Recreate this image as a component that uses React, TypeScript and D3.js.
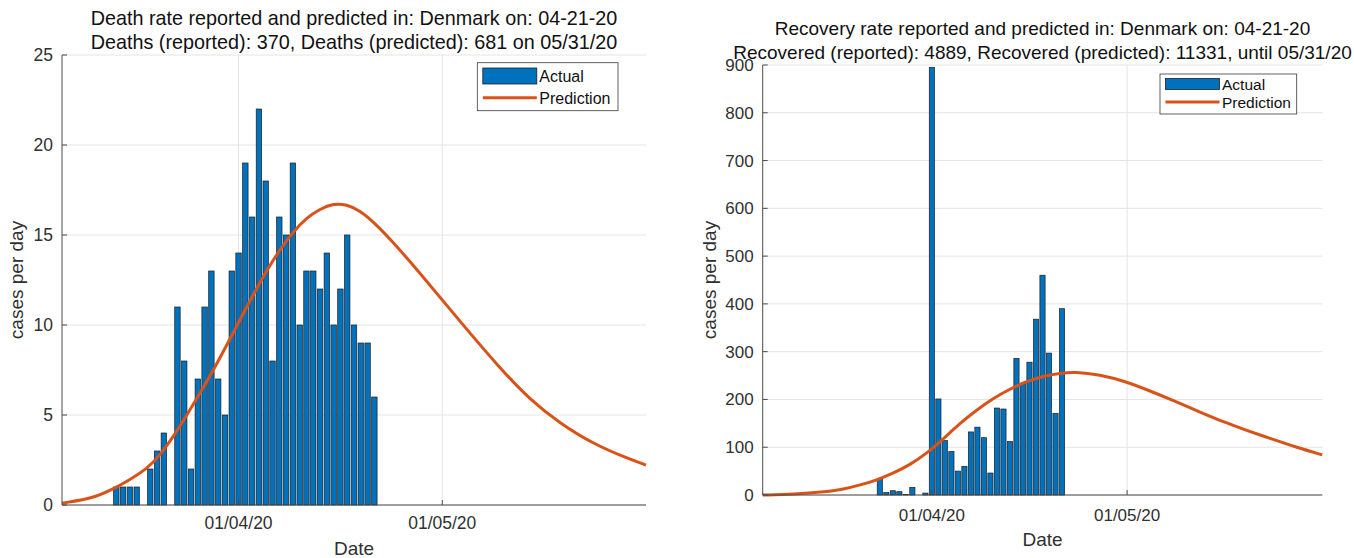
import React from 'react';
import * as d3 from 'd3';

// ---------- data ----------
const startDate = '2020-03-06';
const endDate = '2020-05-31';
const xTickDates = ['2020-04-01', '2020-05-01'];

// daily reported deaths, Mar 6 .. Apr 21
const deathsDaily = [
  0, 0, 0, 0, 0, 0, 0, 0,
  1, 1, 1, 1, 0, 2, 3, 4, 0, 11, 8, 2, 7, 11, 13, 7, 5, 13, 14, 19, 16, 22, 18, 8,
  16, 15, 19, 10, 13, 13, 12, 14, 10, 12, 15, 10, 9, 9, 6,
];
// daily reported recoveries, Mar 6 .. Apr 21
const recoveredDaily = [
  0, 0, 0, 0, 0, 0, 0, 0, 0, 0, 0, 0, 0, 0, 0, 0, 0, 0,
  35, 5, 9, 7, 1, 16, 0, 4,
  895, 201, 114, 91, 50, 60, 132, 142, 120, 46, 182, 180, 112, 286, 234, 278, 368,
  460, 297, 171, 390,
];

// predicted curves (day offset from start date -> value)
const predDeathDay = [0, 4.6, 7.6, 9.5, 12.5, 14.4, 16.4, 18.4, 20.3, 22.3, 24.3, 26.2, 28.2, 30.1, 32.1, 34.1, 36, 38, 40, 41.9, 43.9, 45.8, 48.3, 52.7, 58.6, 64.5, 68.9, 73.3, 78.2, 83.2, 86];
const predDeathValue = [0.1, 0.37, 0.9, 1.3, 2.0, 2.75, 3.8, 5.0, 6.2, 7.5, 8.9, 10.3, 11.7, 13.0, 14.2, 15.2, 15.95, 16.45, 16.75, 16.7, 16.35, 15.75, 14.8, 12.9, 10.2, 7.6, 5.85, 4.55, 3.4, 2.6, 2.22];

const predRecDay = [0, 4.7, 9.8, 12.4, 15, 17.5, 20.1, 22.6, 25.2, 27.8, 30.3, 32.9, 35.4, 38, 40.6, 43.1, 45.7, 48, 51.8, 55.7, 59.5, 63.4, 67.3, 71.2, 74, 78.5, 82, 86];
const predRecValue = [0, 1.4, 7, 12, 21, 31, 46, 63, 87, 118, 150, 178, 202, 222, 238, 249, 255, 258, 252, 238, 218, 196, 173, 151, 137, 116, 100, 84];

const deathTitle: [string, string] = [
  'Death rate reported and predicted in: Denmark on: 04-21-20',
  'Deaths (reported): 370, Deaths (predicted): 681 on 05/31/20',
];
const recTitle: [string, string] = [
  'Recovery rate reported and predicted in: Denmark on: 04-21-20',
  'Recovered (reported): 4889, Recovered (predicted): 11331, until 05/31/20',
];
const legendLabels = ['Actual', 'Prediction'];
const xLabel = 'Date';
const yLabel = 'cases per day';

// ---------- styling ----------
const FONT = '"Liberation Sans", Arial, Helvetica, sans-serif';
const BAR = '#0072BD';
const LINE = '#D95319';
const GRID = '#e4e4e4';
const AXIS = '#4a4a4a';
const TEXT = '#303030';
const DAY = 86400000;

const parse = (s: string) => new Date(s + 'T00:00:00Z');
const fmt = d3.utcFormat('%d/%m/%y');

type PanelProps = {
  x0: number; x1: number; yTop: number; yBot: number;
  yMax: number; yStep: number;
  daily: number[]; predDay: number[]; predVal: number[];
  title: [string, string]; titleY: [number, number]; titleFs: number; tickFs: number;
  legend: { x: number; y: number; w: number; h: number; fs: number; patchY: number; patchH: number; row1: number; row2: number };
  yLabelX: number; xTickY: number; xLabelY: number;
};

function Panel(p: PanelProps) {
  const start = parse(startDate);
  const xs = d3.scaleUtc().domain([start, parse(endDate)]).range([p.x0, p.x1]);
  const ys = d3.scaleLinear().domain([0, p.yMax]).range([p.yBot, p.yTop]);
  const dayW = (p.x1 - p.x0) / ((parse(endDate).getTime() - start.getTime()) / DAY);
  const bw = dayW * 0.8;
  const yTicks = d3.range(0, p.yMax + 0.001, p.yStep);
  const xTicks = xTickDates.map(parse);
  const cx = (p.x0 + p.x1) / 2;
  const line = d3
    .line<number>()
    .x((_, i) => xs(new Date(start.getTime() + p.predDay[i] * DAY)))
    .y((v) => ys(v))
    .curve(d3.curveBasis);
  const L = p.legend;
  return (
    <g fontFamily={FONT}>
      {yTicks.map((t) => (
        <line key={'gy' + t} x1={p.x0} x2={p.x1} y1={ys(t)} y2={ys(t)} stroke={GRID} strokeWidth={1} />
      ))}
      {xTicks.map((t, i) => (
        <line key={'gx' + i} x1={xs(t)} x2={xs(t)} y1={p.yTop} y2={p.yBot} stroke={GRID} strokeWidth={1} />
      ))}
      {p.daily.map((v, i) => {
        const d = new Date(start.getTime() + i * DAY);
        return (
          <rect
            key={'b' + i}
            x={xs(d) - bw / 2}
            y={ys(v)}
            width={bw}
            height={ys(0) - ys(v)}
            fill={BAR}
            stroke="#1e1e1e"
            strokeWidth={0.7}
          />
        );
      })}
      <path d={line(p.predVal) || ''} fill="none" stroke={LINE} strokeWidth={3} />
      {/* axes */}
      <line x1={p.x0} x2={p.x0} y1={p.yTop} y2={p.yBot} stroke={AXIS} strokeWidth={1} />
      <line x1={p.x0} x2={p.x1} y1={p.yBot} y2={p.yBot} stroke={AXIS} strokeWidth={1} />
      {yTicks.map((t) => (
        <line key={'ty' + t} x1={p.x0} x2={p.x0 + 5} y1={ys(t)} y2={ys(t)} stroke={AXIS} strokeWidth={1} />
      ))}
      {xTicks.map((t, i) => (
        <line key={'tx' + i} x1={xs(t)} x2={xs(t)} y1={p.yBot} y2={p.yBot - 5} stroke={AXIS} strokeWidth={1} />
      ))}
      {yTicks.map((t) => (
        <text key={'ly' + t} x={p.x0 - 9} y={ys(t) + p.tickFs * 0.35} fontSize={p.tickFs} fill={TEXT} textAnchor="end">
          {t}
        </text>
      ))}
      {xTicks.map((t, i) => (
        <text key={'lx' + i} x={xs(t)} y={p.xTickY} fontSize={p.tickFs} fill={TEXT} textAnchor="middle">
          {fmt(t)}
        </text>
      ))}
      <text x={cx} y={p.xLabelY} fontSize={19} fill={TEXT} textAnchor="middle">{xLabel}</text>
      <text
        transform={`translate(${p.yLabelX},${(p.yTop + p.yBot) / 2}) rotate(-90)`}
        fontSize={19}
        fill={TEXT}
        textAnchor="middle"
      >
        {yLabel}
      </text>
      <text x={cx} y={p.titleY[0]} fontSize={p.titleFs} fill="#111" textAnchor="middle">{p.title[0]}</text>
      <text x={cx} y={p.titleY[1]} fontSize={p.titleFs} fill="#111" textAnchor="middle">{p.title[1]}</text>
      {/* legend */}
      <rect x={L.x} y={L.y} width={L.w} height={L.h} fill="#fff" stroke="#3a3a3a" strokeWidth={0.8} />
      <rect x={L.x + 5.5} y={L.patchY} width={54} height={L.patchH} fill={BAR} stroke="#1e1e1e" strokeWidth={0.8} />
      <line x1={L.x + 5.5} x2={L.x + 59.5} y1={L.row2 - 1} y2={L.row2 - 1} stroke={LINE} strokeWidth={3} />
      <text x={L.x + 62} y={L.row1 + L.fs * 0.35} fontSize={L.fs} fill="#111">{legendLabels[0]}</text>
      <text x={L.x + 62} y={L.row2 + L.fs * 0.35} fontSize={L.fs} fill="#111">{legendLabels[1]}</text>
    </g>
  );
}

export default function App() {
  return (
    <svg
      width={1354}
      height={558}
      style={{ position: 'absolute', left: 0, top: 0, background: '#fff' }}
    >
      <rect width={1354} height={558} fill="#fff" />
      <Panel
        x0={62}
        x1={646}
        yTop={55}
        yBot={505}
        yMax={25}
        yStep={5}
        daily={deathsDaily}
        predDay={predDeathDay}
        predVal={predDeathValue}
        title={deathTitle}
        titleY={[25, 49]}
        titleFs={19.8}
        tickFs={17.5}
        legend={{ x: 477.3, y: 62.7, w: 140.7, h: 48, fs: 16, patchY: 68, patchH: 16, row1: 76.3, row2: 98.7 }}
        yLabelX={23}
        xTickY={529}
        xLabelY={555}
      />
      <Panel
        x0={762.7}
        x1={1322.3}
        yTop={65}
        yBot={495}
        yMax={900}
        yStep={100}
        daily={recoveredDaily}
        predDay={predRecDay}
        predVal={predRecValue}
        title={recTitle}
        titleY={[35, 59]}
        titleFs={19}
        tickFs={17}
        legend={{ x: 1160, y: 74, w: 136.7, h: 40, fs: 15.5, patchY: 78.5, patchH: 11, row1: 84.5, row2: 103 }}
        yLabelX={716}
        xTickY={521}
        xLabelY={546}
      />
    </svg>
  );
}
